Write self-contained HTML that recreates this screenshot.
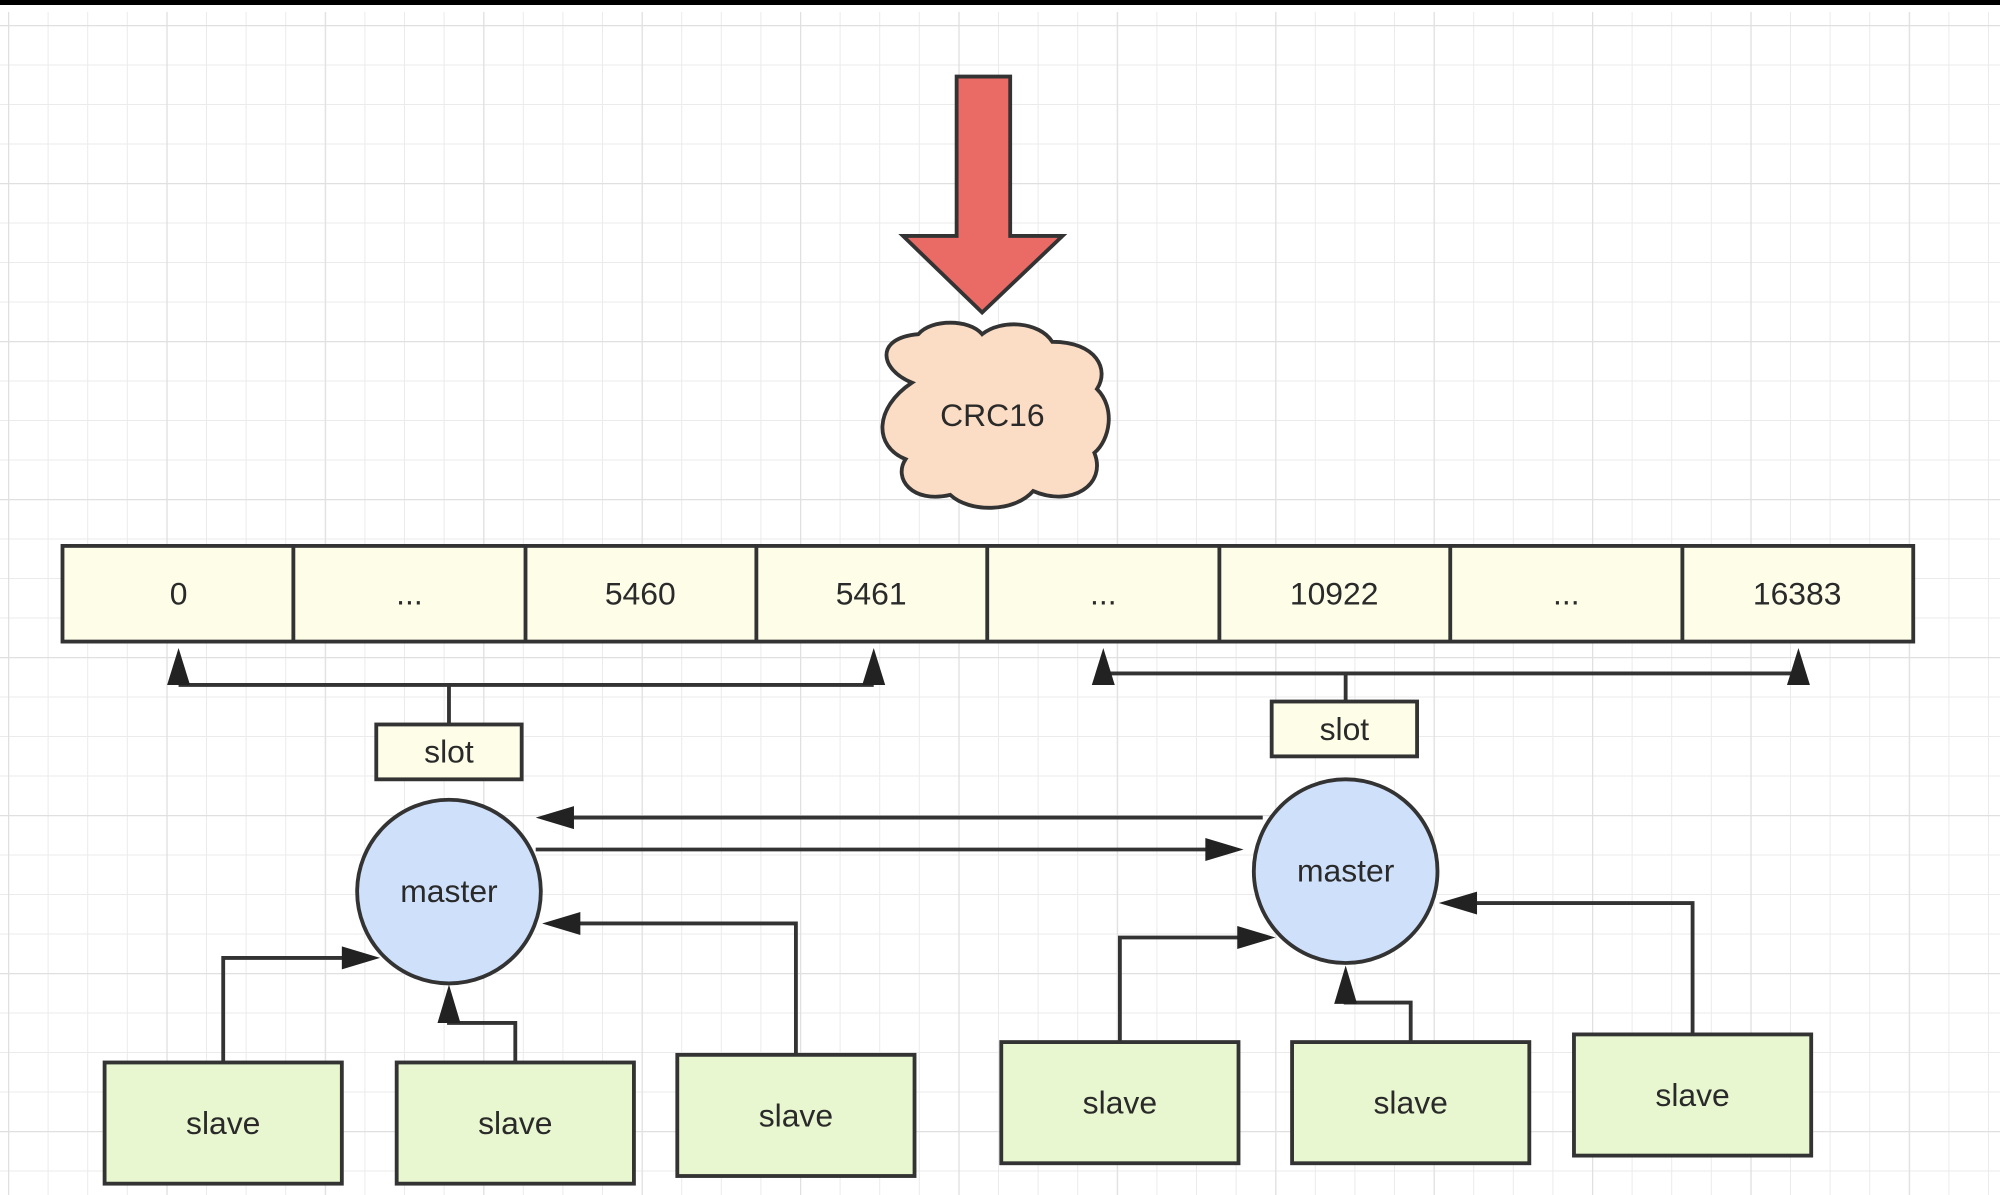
<!DOCTYPE html>
<html><head><meta charset="utf-8"><style>
html,body{margin:0;padding:0;background:#fff;}
svg{display:block;}
text{font-family:"Liberation Sans",sans-serif;fill:#2a2a2a;}
</style></head><body>
<svg width="2000" height="1195" viewBox="0 0 2000 1195" xmlns="http://www.w3.org/2000/svg">
<defs>
<pattern id="g" x="8" y="25" width="39.6" height="39.5" patternUnits="userSpaceOnUse">
<path d="M0 0V39.5M0 0H39.6" stroke="#ebebeb" stroke-width="2" fill="none"/>
</pattern>
<pattern id="G" x="8" y="25" width="158.4" height="158" patternUnits="userSpaceOnUse">
<path d="M0 0V158M0 0H158.4" stroke="#e0e0e0" stroke-width="2.5" fill="none"/>
</pattern>
</defs>
<rect width="2000" height="1195" fill="#fff"/>
<rect x="0" y="12" width="2000" height="1183" fill="url(#g)"/>
<rect x="0" y="12" width="2000" height="1183" fill="url(#G)"/>
<rect x="0" y="0" width="2000" height="5" fill="#000"/>
<g transform="scale(1.2755)">
<g stroke="#333" stroke-width="3">
<path d="M750 60H792V185H833L770 245L708 185H750Z" fill="#ea6b66"/>
<path d="M715 300 C690 290 685 265 720 262 C730 250 760 250 770 262 C785 250 815 252 825 268 C860 268 870 290 860 305 C875 320 870 345 858 355 C868 380 840 398 810 385 C795 402 760 402 745 388 C715 395 700 375 710 360 C685 350 685 320 715 300Z" fill="#fbdcc4"/>
<rect x="49" y="428" width="1451" height="75" fill="#fdfde8"/>
<path d="M230 428V503M412 428V503M593 428V503M774 428V503M956 428V503M1137 428V503M1319 428V503" fill="none"/>
<path d="M140 537H685M352 537V568M865 528H1410M1055 528V550" fill="none"/>
<rect x="295" y="568" width="114" height="43" fill="#fdfde8"/>
<rect x="997" y="550" width="114" height="43" fill="#fdfde8"/>
<circle cx="352" cy="699" r="72" fill="#cfe0fa"/>
<circle cx="1055" cy="683" r="72" fill="#cfe0fa"/>
<path d="M990 641H440M420 666H955" fill="none"/>
<g fill="#e8f7cf">
<rect x="82" y="833" width="186" height="95"/>
<rect x="311" y="833" width="186" height="95"/>
<rect x="531" y="827" width="186" height="95"/>
<rect x="785" y="817" width="186" height="95"/>
<rect x="1013" y="817" width="186" height="95"/>
<rect x="1234" y="811" width="186" height="95"/>
</g>
<path d="M175 833V751H280M404 833V802H352V790M624 827V724H445M878 817V735H982M1106 817V786H1055V775M1327 811V708H1148" fill="none"/>
</g>
<g fill="#222">
<path d="M140 508L131 537H149Z"/><path d="M685 508L676 537H694Z"/>
<path d="M865 508L856 537H874Z"/><path d="M1410 508L1401 537H1419Z"/>
<path d="M420 641L450 632V650Z"/><path d="M975 666L945 657V675Z"/>
<path d="M298 751L268 742V760Z"/><path d="M352 772L343 802H361Z"/><path d="M425 724L455 715V733Z"/>
<path d="M1000 735L970 726V744Z"/><path d="M1055 757L1046 787H1064Z"/><path d="M1128 708L1158 699V717Z"/>
</g>
<g font-size="25" text-anchor="middle">
<text x="778" y="334">CRC16</text>
<text x="140" y="474">0</text><text x="321" y="474">...</text><text x="502" y="474">5460</text><text x="683" y="474">5461</text>
<text x="865" y="474">...</text><text x="1046" y="474">10922</text><text x="1228" y="474">...</text><text x="1409" y="474">16383</text>
<text x="352" y="598">slot</text><text x="1054" y="580">slot</text>
<text x="352" y="707">master</text><text x="1055" y="691">master</text>
<text x="175" y="889">slave</text><text x="404" y="889">slave</text><text x="624" y="883">slave</text>
<text x="878" y="873">slave</text><text x="1106" y="873">slave</text><text x="1327" y="867">slave</text>
</g>
</g>
</svg>
</body></html>
